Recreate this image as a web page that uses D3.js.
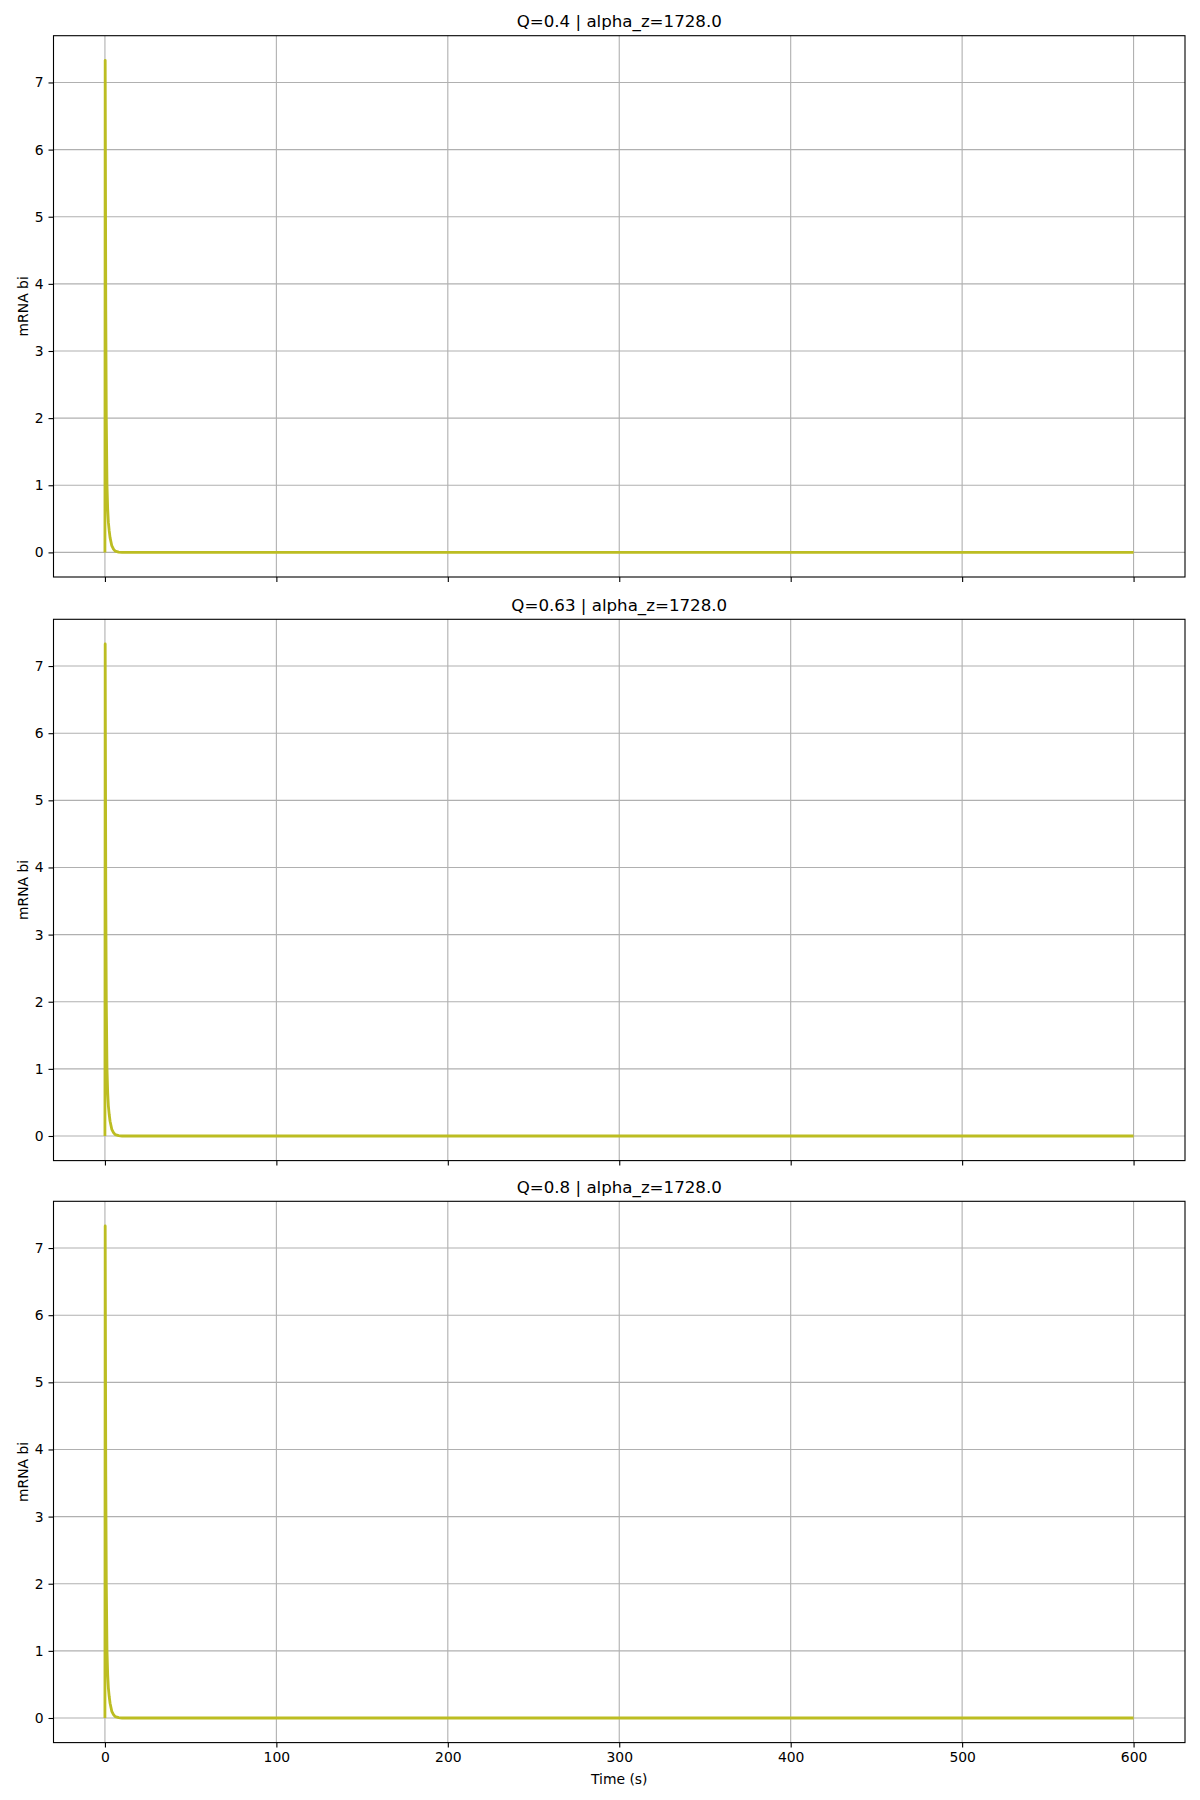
<!DOCTYPE html>
<html><head><meta charset="utf-8">
<script src="https://cdn.jsdelivr.net/npm/d3@7"></script>
<style>body{margin:0;background:#fff}svg{display:block}text{font-family:"DejaVu Sans",sans-serif;fill:#000}</style>
</head><body>
<script>
const titles = ["Q=0.4 | alpha_z=1728.0", "Q=0.63 | alpha_z=1728.0", "Q=0.8 | alpha_z=1728.0"];
const timeS = [0, 0.15, 0.5, 0.8, 1.2, 1.6, 2.0, 2.5, 3, 4, 5, 6, 8, 10, 600];
const mrnaQ04 = [0, 7.33, 3.6, 2.0, 1.0, 0.65, 0.45, 0.32, 0.22, 0.1, 0.05, 0.02, 0.005, 0, 0];
const mrnaQ063 = [0, 7.33, 3.6, 2.0, 1.0, 0.65, 0.45, 0.32, 0.22, 0.1, 0.05, 0.02, 0.005, 0, 0];
const mrnaQ08 = [0, 7.33, 3.6, 2.0, 1.0, 0.65, 0.45, 0.32, 0.22, 0.1, 0.05, 0.02, 0.005, 0, 0];
const xTicks = [0, 100, 200, 300, 400, 500, 600];
const yTicks = [0, 1, 2, 3, 4, 5, 6, 7];
const series = [mrnaQ04, mrnaQ063, mrnaQ08];

const W = 1200, H = 1800;
const left = 53.5, right = 1185, panelH = 541.3;
const tops = [35.7, 619.3, 1201.3];
const svg = d3.select("body").append("svg").attr("width", W).attr("height", H);

const x = d3.scaleLinear().domain([-30, 630]).range([left, right]);

series.forEach((vals, i) => {
  const top = tops[i], bottom = top + panelH;
  const ymax = d3.max(vals), ymin = d3.min(vals);
  const pad = (ymax - ymin) * 0.05;
  const y = d3.scaleLinear().domain([ymin - pad, ymax + pad]).range([bottom, top]);
  const g = svg.append("g");

  // grid
  g.selectAll(".gx").data(xTicks).enter().append("line")
    .attr("x1", d => x(d)).attr("x2", d => x(d)).attr("y1", top).attr("y2", bottom)
    .attr("stroke", "#b0b0b0").attr("stroke-width", 1.1);
  g.selectAll(".gy").data(yTicks).enter().append("line")
    .attr("y1", d => y(d)).attr("y2", d => y(d)).attr("x1", left).attr("x2", right)
    .attr("stroke", "#b0b0b0").attr("stroke-width", 1.1);

  // line
  const pts = timeS.map((t, k) => [t, vals[k]]);
  g.append("path").datum(pts)
    .attr("d", d3.line().x(d => x(d[0])).y(d => y(d[1])))
    .attr("fill", "none").attr("stroke", "#bcbd22").attr("stroke-width", 2.8)
    .attr("stroke-linejoin", "round");

  // axes
  const xa = d3.axisBottom(x).tickValues(xTicks).tickSize(5).tickPadding(4.9);
  if (i < 2) xa.tickFormat("");
  const gx = g.append("g").attr("transform", `translate(0,${bottom})`).call(xa);
  const ya = d3.axisLeft(y).tickValues(yTicks).tickSize(5).tickPadding(4.9);
  const gy = g.append("g").attr("transform", `translate(${left},0)`).call(ya);
  [gx, gy].forEach(a => {
    a.select(".domain").remove();
    a.selectAll("line").attr("stroke", "#000").attr("stroke-width", 1.1);
    a.selectAll("text").style("font-family", "DejaVu Sans").style("font-size", "13.9px").attr("fill", "#000");
  });

  // frame
  g.append("rect").attr("x", left).attr("y", top).attr("width", right - left).attr("height", panelH)
    .attr("fill", "none").attr("stroke", "#000").attr("stroke-width", 1.1);

  // title
  g.append("text").attr("x", (left + right) / 2).attr("y", top - 8.3)
    .attr("text-anchor", "middle").style("font-size", "16.67px").text(titles[i]);

  // ylabel
  g.append("text").attr("transform", `translate(28,${(top + bottom) / 2}) rotate(-90)`)
    .attr("text-anchor", "middle").style("font-size", "13.9px").text("mRNA bi");

  if (i === 2) {
    g.append("text").attr("x", (left + right) / 2).attr("y", bottom + 41)
      .attr("text-anchor", "middle").style("font-size", "13.9px").text("Time (s)");
  }
});
</script>
</body></html>
